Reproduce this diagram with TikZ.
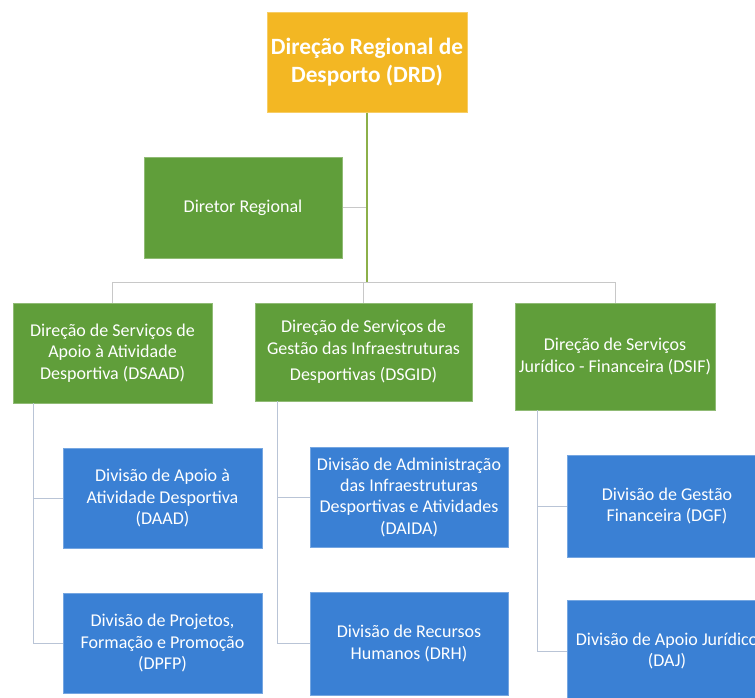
\documentclass[tikz,border=0pt]{standalone}
\usepackage{fontspec}
\setmainfont{Carlito}
\definecolor{drdgold}{RGB}{243,183,35}
\definecolor{dirgreen}{RGB}{96,158,58}
\definecolor{divblue}{RGB}{58,128,212}
\definecolor{toplink}{RGB}{140,176,74}
\definecolor{buslink}{RGB}{200,200,200}
\definecolor{sublink}{RGB}{185,196,214}
\tikzset{every picture/.style={line width=0.75pt}}
\tikzset{
  orgbox/.style={rectangle, minimum width=150pt, minimum height=75pt, align=center,
    text=white, font=\fontsize{13.5}{16}\selectfont, inner sep=1pt},
  topbox/.style={orgbox, fill=drdgold, draw=drdgold!70!white,
    font=\fontsize{17.5}{21}\selectfont\bfseries},
  dirbox/.style={orgbox, fill=dirgreen, draw=dirgreen!70!white},
  divbox/.style={orgbox, fill=divblue, draw=divblue!70!white},
  toplink/.style={draw=toplink, line width=1.2pt},
  buslink/.style={draw=buslink},
  sublink/.style={draw=sublink}
}

\begin{document}
\begin{tikzpicture}[x=0.75pt,y=0.75pt,yscale=-1,xscale=1]
\useasboundingbox (0,0) rectangle (755,697);
\clip (0,0) rectangle (755,697);

% Text Node
\node[topbox] (drd) at (367,62) {Direção Regional de\\Desporto (DRD)};
% Text Node
\node[dirbox, minimum width=148.5pt, minimum height=75.75pt] (dirreg) at (243,207.5) {Diretor Regional};

% Text Node
\node[dirbox, minimum width=149.25pt] (dsaad) at (112.5,353)
  {Direção de Serviços de\\Apoio à Atividade\\Desportiva (DSAAD)};
% Text Node
\node[dirbox, minimum width=162.75pt, minimum height=73.5pt] (dsgid) at (363.5,352)
  {Direção de Serviços de\\Gestão das Infraestruturas\\[4pt]Desportivas (DSGID)};
% Text Node
\node[dirbox, minimum height=80.25pt] (dsif) at (615,356.5)
  {Direção de Serviços\\Jurídico - Financeira (DSIF)};

% Text Node
\node[divbox, minimum width=149.25pt] (daad) at (162.5,498)
  {Divisão de Apoio à\\Atividade Desportiva\\(DAAD)};
% Text Node
\node[divbox, minimum width=148.5pt] (daida) at (409,497)
  {Divisão de Administração\\das Infraestruturas\\Desportivas e Atividades\\(DAIDA)};
% Text Node
\node[divbox, minimum height=76.5pt] (dgf) at (667,506)
  {Divisão de Gestão\\Financeira (DGF)};
% Text Node
\node[divbox, minimum width=149.25pt] (dpfp) at (162.5,643)
  {Divisão de Projetos,\\Formação e Promoção\\(DPFP)};
% Text Node
\node[divbox, minimum width=148.5pt, minimum height=77.25pt] (drh) at (409,643.5)
  {Divisão de Recursos\\Humanos (DRH)};
% Text Node
\node[divbox, minimum height=76.5pt] (daj) at (667,651)
  {Divisão de Apoio Jurídico\\(DAJ)};

%Straight Lines
\coordinate (bus) at (0,282);
\coordinate (trunkA) at (33,403);
\coordinate (trunkB) at (277,401);
\coordinate (trunkC) at (537,410);

\path[buslink] (dsaad.north |- bus) -- (dsif.north |- bus);
\path[buslink] (dirreg.east) -- (drd.south |- dirreg.east);
\path[buslink] (dsaad.north |- bus) -- (dsaad.north);
\path[buslink] (dsgid.north |- bus) -- (dsgid.north);
\path[buslink] (dsif.north |- bus) -- (dsif.north);
\path[toplink] (drd.south) -- (drd.south |- bus);

\path[sublink] (trunkA) |- (daad.west);
\path[sublink] (trunkA) |- (dpfp.west);
\path[sublink] (trunkB) |- (daida.west);
\path[sublink] (trunkB) |- (drh.west);
\path[sublink] (trunkC) |- (dgf.west);
\path[sublink] (trunkC) |- (daj.west);

\end{tikzpicture}
\end{document}
